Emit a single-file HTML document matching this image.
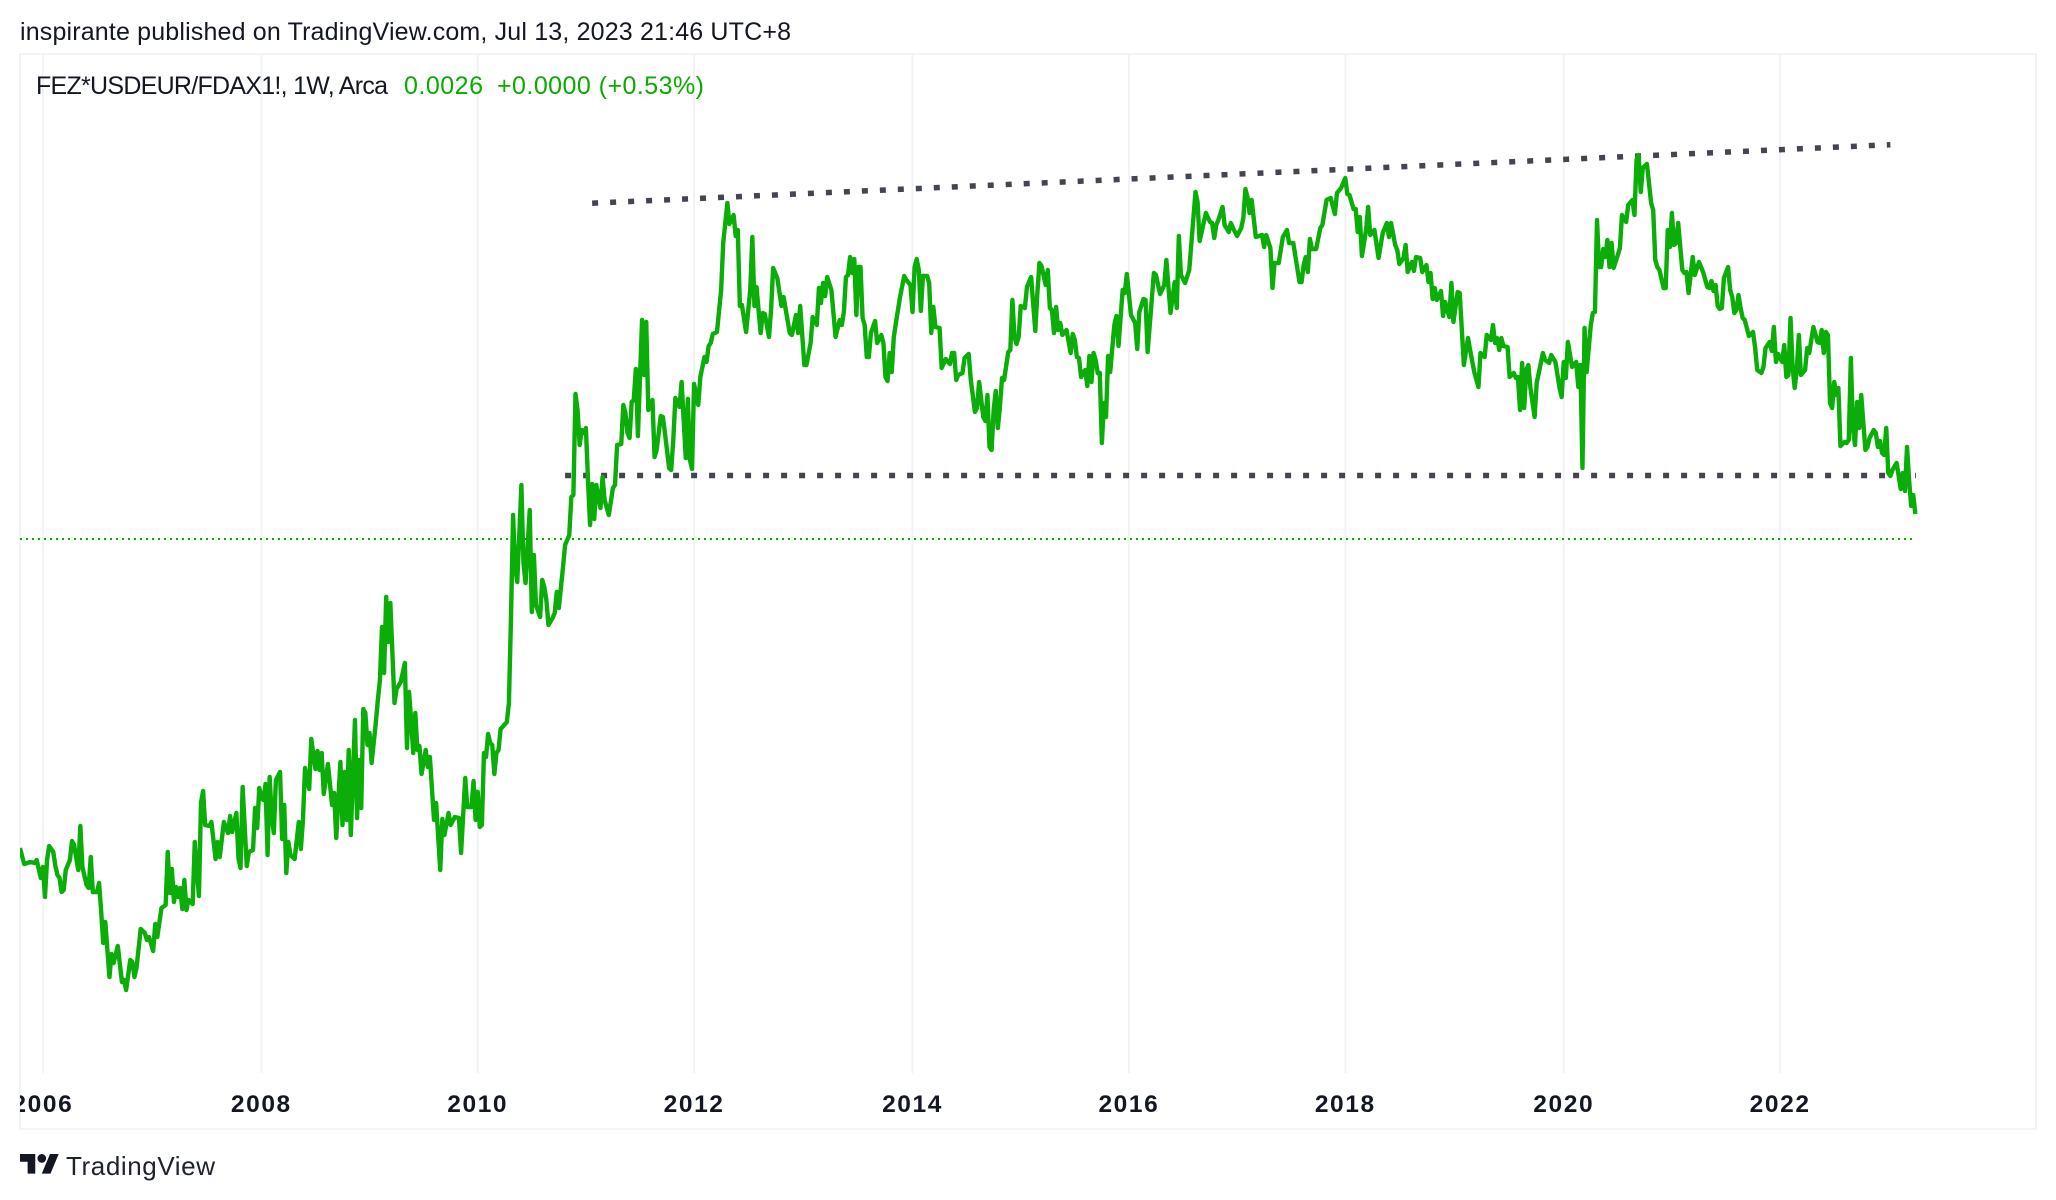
<!DOCTYPE html>
<html lang="en">
<head>
<meta charset="utf-8">
<title>FEZ*USDEUR/FDAX1! chart</title>
<style>
html,body{margin:0;padding:0;background:#fff;}
svg{display:block;}
text{font-family:"Liberation Sans",sans-serif;}
</style>
</head>
<body>
<svg id="chart" xmlns="http://www.w3.org/2000/svg" width="2056" height="1200" viewBox="0 0 2056 1200">
  <defs>
    <clipPath id="pane-clip"><rect x="20" y="54" width="2016" height="1075"/></clipPath>
  </defs>
  <rect x="0" y="0" width="2056" height="1200" fill="#ffffff"/>
  <text x="20" y="40" font-size="25" fill="#131722" textLength="771" lengthAdjust="spacing">inspirante published on TradingView.com, Jul 13, 2023 21:46 UTC+8</text>
  <g id="grid"></g>
  <rect x="20" y="54" width="2016" height="1075" fill="none" stroke="#f0f3fa" stroke-width="2"/>
  <g id="drawings"></g>
  <g id="series" clip-path="url(#pane-clip)"></g>
  <g id="ticks" clip-path="url(#pane-clip)"></g>
  <text x="36" y="94" font-size="25" fill="#131722" textLength="352" lengthAdjust="spacing">FEZ*USDEUR/FDAX1!, 1W, Arca</text>
  <text x="404" y="94" font-size="25" fill="#09ab00" textLength="79" lengthAdjust="spacing">0.0026</text>
  <text x="497" y="94" font-size="25" fill="#09ab00" textLength="207" lengthAdjust="spacing">+0.0000 (+0.53%)</text>
  <g transform="translate(20,1149.7) scale(1.09)" fill="#131722">
    <path d="M14 22H7V11H0V4h14v18zM28 22h-8l7.5-18h8L28 22z"/>
    <circle cx="20" cy="8" r="4"/>
  </g>
  <text x="66" y="1175" font-size="26" fill="#1e222d" textLength="149" lengthAdjust="spacing">TradingView</text>
</svg>
<script>
const tickLabels = ["2006","2008","2010","2012","2014","2016","2018","2020","2022"];
const tickWeeks = [11,116,220,324,429,533,637,742,846];

const weeks = [
0,2,5,7,8,10,11,12,13,14,16,17,18,19,20,21,22,24,25,26,28,29,30,32,33,34,35,37,38,39,40,41,43,44,45,47,49,50,51,53,54,55,56,58,60,61,62,64,65,66,68,70,71,72,73,74,75,76,77,78,79,80,81,83,84,86,87,88,89,91,92,94,95,96,98,100,101,102,104,105,106,107,109,110,112,113,114,115,116,117,118,119,
120,121,122,123,125,126,127,128,129,130,132,134,135,136,137,139,140,142,143,144,145,146,148,150,151,152,154,155,156,157,158,159,161,162,163,164,165,166,167,168,169,171,172,173,174,175,176,177,178,180,181,183,185,186,187,188,189,190,191,192,193,195,196,197,199,200,202,203,204,206,207,209,211,212,214,215,217,218,219,220,221,222,223,224,225,226,227,228,229,230,231,234,235,236,
237,238,239,241,242,243,245,246,247,248,250,251,252,253,254,256,257,258,259,261,262,264,265,266,267,268,269,270,271,272,273,274,275,276,277,279,280,281,283,285,286,287,289,290,291,292,293,294,295,296,297,299,300,301,302,304,305,306,308,309,310,312,313,314,315,317,318,320,321,322,323,324,326,327,329,330,331,332,333,335,337,338,340,341,343,344,345,346,347,349,
351,352,353,354,356,357,358,360,361,362,364,366,367,370,371,373,374,375,377,378,380,381,383,384,385,386,387,388,390,392,394,395,396,397,398,399,400,401,402,403,404,405,406,407,408,409,411,412,414,415,416,417,418,419,420,421,423,425,426,428,429,430,431,432,433,434,436,437,438,439,440,442,443,445,447,448,449,450,451,453,454,456,457,459,460,461,463,464,465,466,
467,468,469,470,471,472,473,475,476,477,478,479,480,481,483,484,486,488,489,490,491,493,494,495,496,497,498,499,500,501,503,505,506,507,508,509,510,512,513,514,515,516,517,518,519,520,521,522,523,524,526,527,528,530,531,532,534,536,537,538,540,541,542,545,546,548,550,551,553,555,556,557,558,560,562,565,566,567,570,572,573,574,575,576,578,579,581,582,
583,585,587,588,589,590,591,592,594,597,598,599,601,602,603,605,607,609,610,612,615,616,617,618,619,620,621,623,625,626,628,630,632,633,635,637,638,639,641,642,643,644,645,647,648,649,651,653,655,657,658,659,661,662,663,665,666,667,669,670,671,673,674,676,677,678,679,680,681,683,684,685,687,688,689,691,692,694,696,697,
699,701,702,704,705,707,708,709,710,711,712,713,715,716,718,719,720,721,722,723,724,725,726,728,729,732,733,735,736,738,740,741,742,743,744,746,748,749,750,751,752,753,755,756,757,758,759,760,761,762,763,764,765,766,768,769,770,772,773,775,776,777,778,779,780,782,784,785,786,787,788,790,791,792,793,794,795,796,797,799,800,801,802,804,805,807,809,811,812,
813,814,815,816,817,818,819,821,822,823,824,825,826,827,828,829,831,833,834,835,837,838,839,841,842,843,844,845,847,848,849,850,851,852,853,854,855,856,858,859,860,862,864,865,866,867,868,869,870,871,872,873,874,875,877,878,879,880,881,882,883,884,885,887,888,889,891,892,893,894,895,896,897,898,899,900,902,904,905,906,907,908,909,910,911
];

const values = [
2252,2236,2238,2237,2240,2222,2233,2203,2240,2254,2248,2234,2225,2222,2208,2210,2230,2240,2259,2255,2230,2274,2233,2215,2212,2243,2208,2208,2217,2189,2157,2178,2123,2146,2137,2154,2118,2120,2110,2140,2138,2123,2132,2171,2167,2160,2163,2149,2176,2163,2192,2195,2248,2207,2231,2198,2213,2203,2212,2191,2220,2190,2200,2196,2258,2204,2297,2309,2275,2274,2278,2241,2258,2243,2278,2267,2284,2268,2287,2242,2232,2313,2234,2248,2250,2292,2272,2312,2302,2300,2316,2245,
2323,2283,2267,2320,2328,2261,2295,2227,2258,2245,2241,2278,2251,2280,2332,2311,2361,2331,2349,2330,2347,2306,2336,2295,2307,2262,2338,2275,2328,2280,2350,2265,2380,2282,2340,2292,2391,2387,2355,2367,2337,2377,2400,2420,2473,2427,2503,2458,2497,2397,2411,2418,2437,2352,2408,2380,2347,2387,2350,2354,2326,2350,2333,2343,2280,2297,2230,2281,2265,2287,2275,2283,2282,2247,2322,2293,2293,2319,2280,2308,2273,2275,2347,2343,2366,2357,2355,2326,2347,2350,2371,2378,2397,2483,
2585,2533,2518,2615,2537,2517,2590,2488,2545,2495,2483,2520,2513,2500,2475,2482,2487,2508,2492,2533,2555,2565,2603,2605,2706,2690,2655,2670,2667,2672,2620,2575,2616,2581,2615,2592,2623,2600,2585,2612,2615,2655,2656,2695,2687,2667,2662,2698,2700,2731,2664,2780,2725,2778,2690,2700,2643,2650,2684,2683,2667,2632,2630,2660,2702,2693,2718,2642,2701,2640,2631,2716,2695,2723,2743,2738,2754,2757,2766,2768,2810,2857,2897,2876,2885,2864,2870,2794,2795,2768,
2810,2863,2794,2813,2767,2787,2786,2763,2790,2832,2822,2794,2803,2767,2765,2785,2767,2794,2735,2735,2757,2783,2775,2812,2797,2817,2804,2823,2810,2763,2780,2775,2788,2823,2825,2843,2827,2841,2785,2833,2833,2782,2775,2743,2743,2767,2779,2757,2765,2757,2723,2719,2747,2728,2763,2777,2803,2824,2820,2815,2788,2833,2841,2830,2789,2824,2824,2817,2767,2793,2773,2772,2732,2741,2736,2747,2747,2720,2725,2727,2742,2746,2720,2688,2692,2718,2683,2679,2705,2653,
2650,2690,2709,2672,2693,2722,2720,2748,2750,2800,2763,2756,2763,2794,2792,2813,2823,2769,2807,2837,2834,2815,2830,2792,2790,2767,2793,2770,2777,2765,2770,2747,2766,2760,2743,2742,2723,2730,2714,2744,2718,2747,2740,2727,2727,2657,2697,2683,2744,2728,2775,2784,2754,2810,2807,2826,2785,2777,2751,2788,2801,2800,2748,2827,2825,2806,2815,2840,2787,2818,2792,2864,2825,2817,2830,2908,2898,2859,2887,2878,2877,2862,2875,2880,2893,2875,2868,2877,
2872,2864,2872,2882,2911,2903,2887,2900,2863,2865,2853,2865,2852,2812,2837,2837,2863,2870,2857,2857,2818,2818,2835,2843,2828,2861,2851,2851,2872,2875,2900,2902,2886,2907,2912,2922,2906,2905,2891,2891,2868,2883,2844,2870,2893,2865,2870,2842,2867,2877,2863,2877,2855,2850,2836,2842,2855,2828,2838,2829,2843,2842,2828,2835,2818,2827,2801,2812,2800,2809,2784,2798,2783,2817,2778,2808,2807,2735,2762,2750,
2728,2713,2747,2743,2765,2760,2775,2757,2762,2750,2762,2754,2753,2723,2727,2722,2723,2690,2737,2692,2730,2735,2712,2683,2717,2747,2740,2737,2745,2738,2712,2703,2738,2722,2758,2733,2738,2713,2735,2632,2772,2728,2775,2787,2788,2880,2833,2833,2851,2843,2860,2833,2857,2832,2845,2852,2885,2878,2895,2900,2885,2940,2945,2908,2932,2936,2897,2890,2840,2833,2830,2812,2812,2870,2853,2887,2855,2857,2877,2830,2827,2828,2807,2843,2825,2838,2828,2813,2812,
2819,2809,2815,2794,2791,2792,2822,2833,2810,2803,2787,2790,2805,2792,2782,2780,2764,2768,2752,2730,2727,2733,2752,2758,2749,2773,2738,2746,2738,2755,2723,2725,2782,2733,2712,2730,2765,2725,2730,2752,2747,2773,2758,2757,2770,2747,2768,2765,2697,2692,2718,2705,2712,2654,2658,2657,2660,2742,2672,2655,2698,2672,2705,2650,2653,2662,2670,2667,2653,2659,2647,2645,2672,2627,2624,2630,2637,2611,2627,2609,2653,2620,2594,2605,2586
];

const upperTrendWeeks = [275,899];
const upperTrendValues = [2896.8,2955.3];
const lowerTrendWeeks = [262,911.3];
const lowerTrendValues = [2624.5,2624.5];
const priceLineWeeks = [0,910];
const priceLineValues = [2561,2561];

const NS = 'http://www.w3.org/2000/svg';
const paneTop = 54, paneBottom = 1073, valueAtTop = 3046, valueAtBottom = 2027;
const timeX = w => 20 + w * 2.0805;
const valueY = v => paneTop + (valueAtTop - v) * (paneBottom - paneTop) / (valueAtTop - valueAtBottom);

const gridGroup = document.getElementById('grid');
const tickGroup = document.getElementById('ticks');
tickWeeks.forEach((w, i) => {
  const line = document.createElementNS(NS, 'line');
  
  
  line.setAttribute('x1', timeX(w));
  line.setAttribute('x2', timeX(w));
  line.setAttribute('y1', paneTop);
  line.setAttribute('y2', paneBottom);
  line.setAttribute('stroke', '#f0f3f5');
  line.setAttribute('stroke-width', '2');
  gridGroup.appendChild(line);

  const label = document.createElementNS(NS, 'text');
  
  
  label.setAttribute('x', timeX(w));
  label.setAttribute('y', 1112);
  label.setAttribute('text-anchor', 'middle');
  label.setAttribute('font-size', '24.5');
  label.setAttribute('font-weight', '700');
  label.setAttribute('letter-spacing', '1.6');
  label.setAttribute('fill', '#131722');
  label.textContent = tickLabels[i];
  tickGroup.appendChild(label);
});

function pointString(ws, vs) {
  return ws.map((w, i) => timeX(w).toFixed(2) + ',' + valueY(vs[i]).toFixed(2)).join(' ');
}

const drawings = document.getElementById('drawings');

const upperTrend = document.createElementNS(NS, 'polyline');


upperTrend.setAttribute('points', pointString(upperTrendWeeks, upperTrendValues));
upperTrend.setAttribute('fill', 'none');
upperTrend.setAttribute('stroke', '#434651');
upperTrend.setAttribute('stroke-width', '5.5');
upperTrend.setAttribute('stroke-dasharray', '6 12');
drawings.appendChild(upperTrend);

const lowerTrend = document.createElementNS(NS, 'polyline');


lowerTrend.setAttribute('points', pointString(lowerTrendWeeks, lowerTrendValues));
lowerTrend.setAttribute('fill', 'none');
lowerTrend.setAttribute('stroke', '#434651');
lowerTrend.setAttribute('stroke-width', '5.5');
lowerTrend.setAttribute('stroke-dasharray', '6 12');
drawings.appendChild(lowerTrend);

const priceLine = document.createElementNS(NS, 'polyline');


priceLine.setAttribute('points', pointString(priceLineWeeks, priceLineValues));
priceLine.setAttribute('fill', 'none');
priceLine.setAttribute('stroke', '#09ab00');
priceLine.setAttribute('stroke-width', '2');
priceLine.setAttribute('stroke-dasharray', '2 4');
drawings.appendChild(priceLine);

const seriesLine = document.createElementNS(NS, 'polyline');


seriesLine.setAttribute('points', pointString(weeks, values));
seriesLine.setAttribute('fill', 'none');
seriesLine.setAttribute('stroke', '#0bad08');
seriesLine.setAttribute('stroke-width', '4.4');
seriesLine.setAttribute('stroke-linejoin', 'round');
seriesLine.setAttribute('stroke-linecap', 'butt');
document.getElementById('series').appendChild(seriesLine);
</script>
</body>
</html>
